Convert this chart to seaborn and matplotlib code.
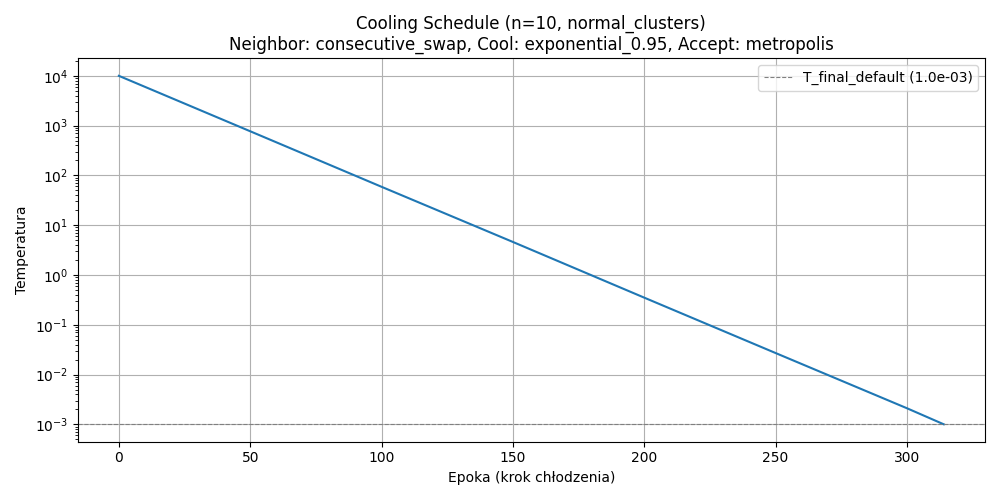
import matplotlib
matplotlib.use('Agg')
import matplotlib.pyplot as plt
import seaborn as sns
import pandas as pd

# values (log-linear cooling curve)
epochs = [0, 50, 100, 150, 200, 250, 300, 314]
temperatures = [1.0e4, 7.7e2, 5.9e1, 4.6, 3.5e-1, 2.7e-2, 2.1e-3, 1.0e-3]
t_final = 1.0e-3

df = pd.DataFrame({'epoch': epochs, 'temp': temperatures})

fig, ax = plt.subplots(figsize=(10, 5), dpi=100)

sns.lineplot(data=df, x='epoch', y='temp', ax=ax, color='#1f77b4', linewidth=1.5)
ax.axhline(t_final, color='gray', linestyle='--', linewidth=0.8,
           label=f'T_final_default ({t_final:.1e})')

ax.set_yscale('log')
ax.set_title('Cooling Schedule (n=10, normal_clusters)\n'
             'Neighbor: consecutive_swap, Cool: exponential_0.95, Accept: metropolis')
ax.set_xlabel('Epoka (krok chłodzenia)')
ax.set_ylabel('Temperatura')
ax.grid(True)
ax.legend(loc='upper right')

plt.tight_layout()
plt.savefig('out.png')
